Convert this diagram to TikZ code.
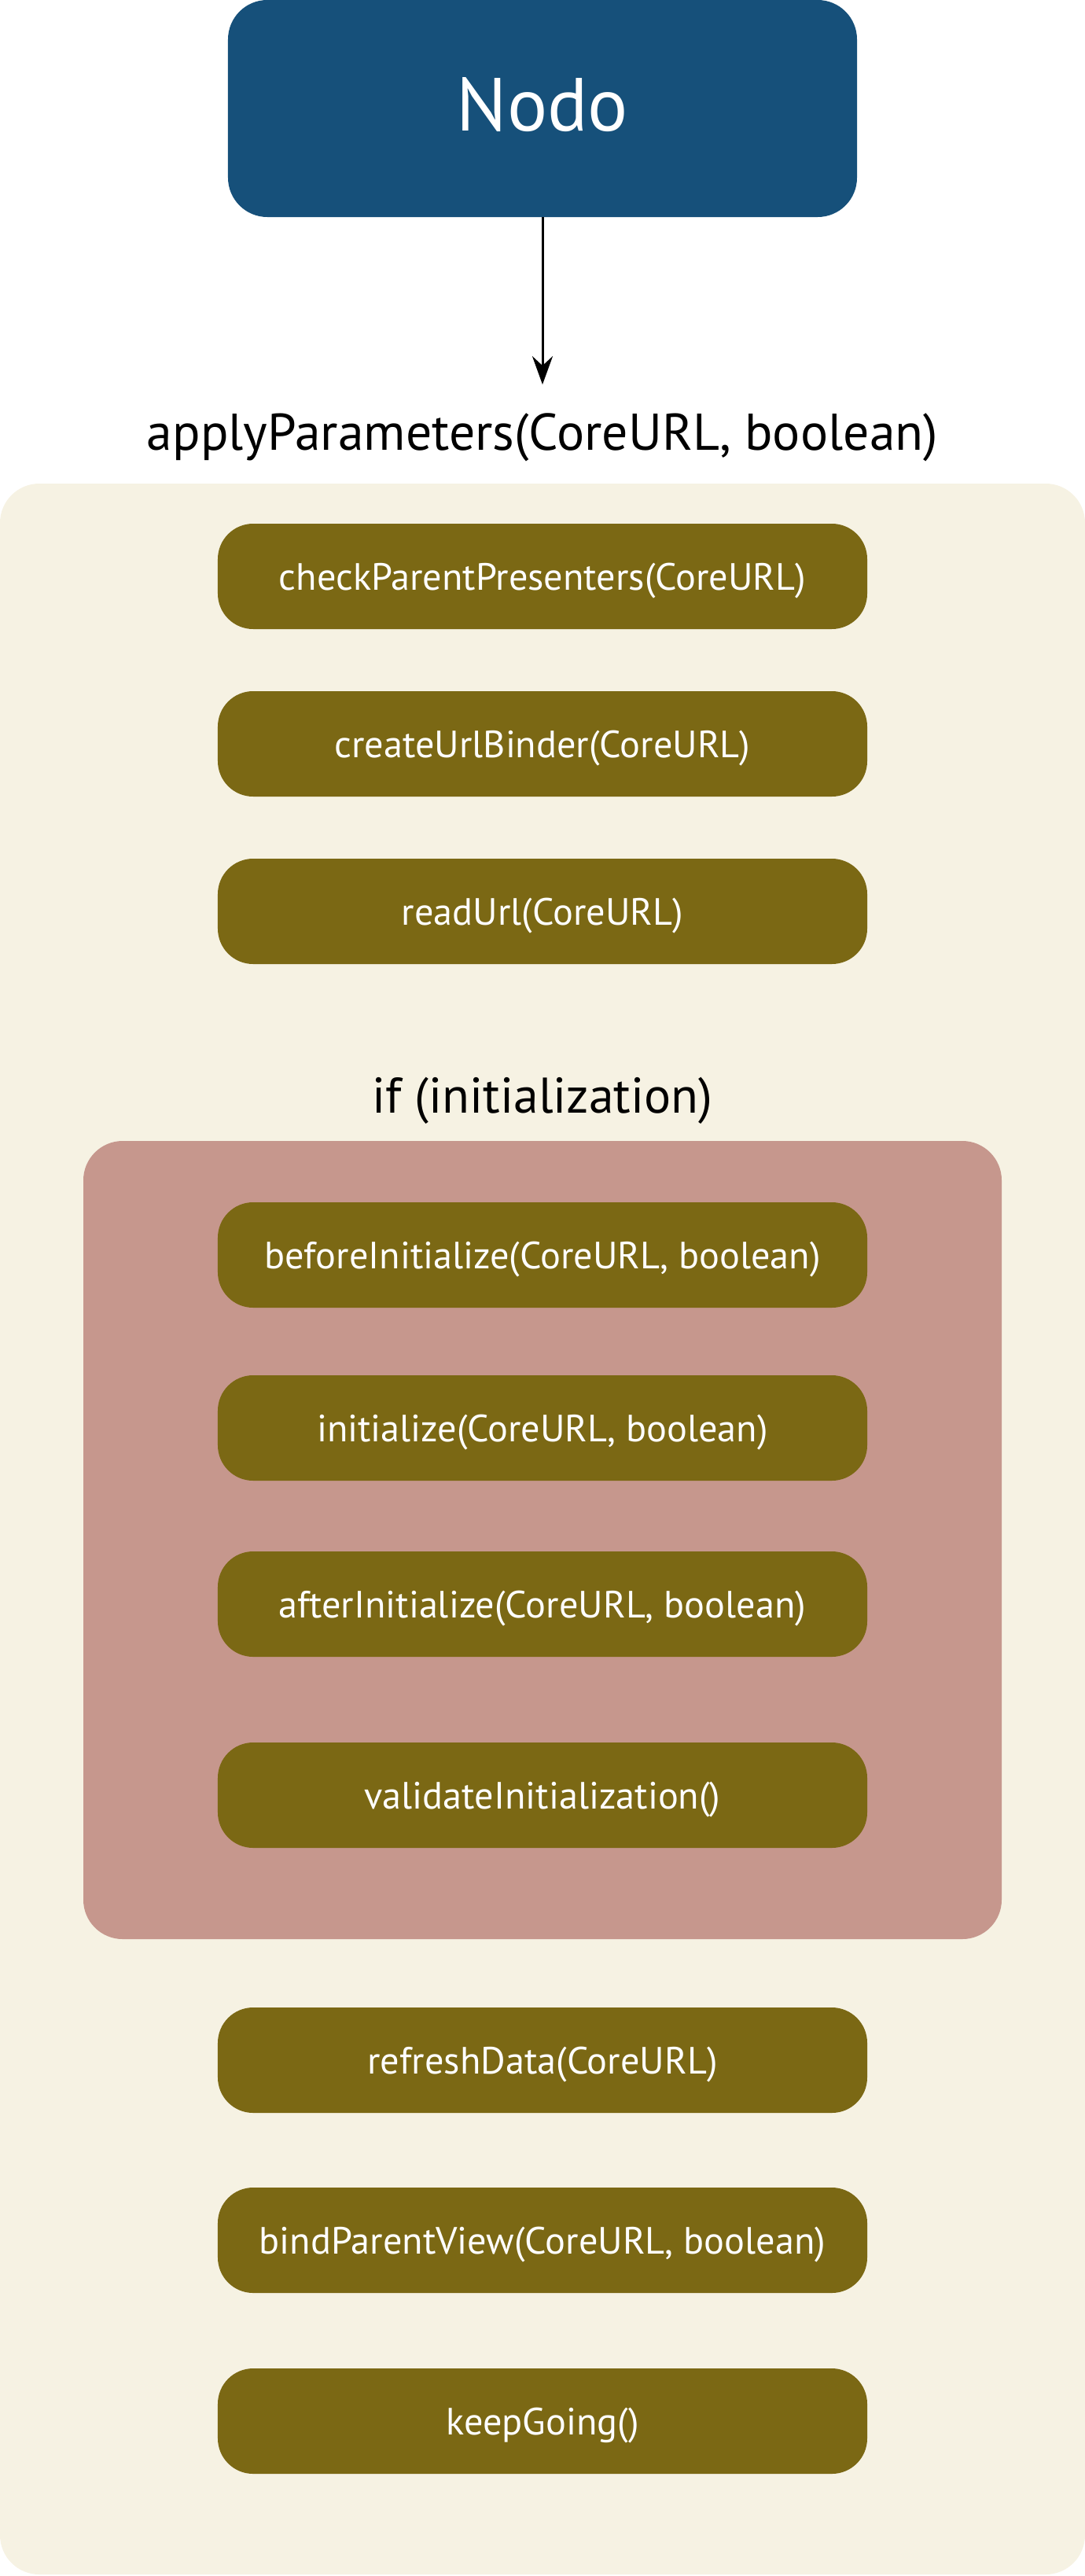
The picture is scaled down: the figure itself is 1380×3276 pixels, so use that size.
\documentclass[tikz,border=0pt]{standalone}
\usepackage{fontspec}
\setmainfont{PT Sans}
\usetikzlibrary{arrows.meta}
\definecolor{navy}{RGB}{22,80,122}
\definecolor{beige}{RGB}{246,242,227}
\definecolor{olive}{RGB}{123,104,20}
\definecolor{rose}{RGB}{198,151,141}
\tikzset{
  stepbox/.style={fill=olive, text=white, rounded corners=45bp, minimum width=826bp, minimum height=134bp,
    inner sep=0pt, text height=34bp, text depth=0bp, font=\fontsize{48.5}{58}\selectfont},
  heading/.style={anchor=base, inner sep=0pt, font=\fontsize{66}{80}\selectfont},
  conn/.style={line width=3bp, -{Stealth[length=36bp, width=26bp, inset=12bp]}}
}
\begin{document}
\begin{tikzpicture}[x=1bp,y=-1bp]
\useasboundingbox (0,0) rectangle (1380,3276);
% containers
\fill[beige, rounded corners=50bp] (0,615) rectangle (1380,3274);
\fill[rose, rounded corners=50bp] (106,1451) rectangle (1274,2466);
% top node
\node[fill=navy, text=white, rounded corners=50bp, minimum width=800bp, minimum height=276bp,
  inner sep=0pt, text height=56bp, text depth=0bp, font=\fontsize{96}{112}\selectfont] (nodo) at (690,138) {Nodo};
\coordinate (tip) at (690,489);
\draw[conn] (nodo.south) -- (tip);
\node[heading] (apply) at (690,572) {applyParameters(CoreURL, boolean)};
% steps
\node[stepbox] (s1) at (690,733) {checkParentPresenters(CoreURL)};
\node[stepbox] (s2) at (690,946) {createUrlBinder(CoreURL)};
\node[stepbox] (s3) at (690,1159) {readUrl(CoreURL)};
\node[heading, font=\fontsize{64}{78}\selectfont] (cond) at (690,1415) {if (initialization)};
\node[stepbox] (s4) at (690,1596) {beforeInitialize(CoreURL, boolean)};
\node[stepbox] (s5) at (690,1816) {initialize(CoreURL, boolean)};
\node[stepbox] (s6) at (690,2040) {afterInitialize(CoreURL, boolean)};
\node[stepbox] (s7) at (690,2283) {validateInitialization()};
\node[stepbox] (s8) at (690,2620) {refreshData(CoreURL)};
\node[stepbox] (s9) at (690,2849) {bindParentView(CoreURL, boolean)};
\node[stepbox] (s10) at (690,3079) {keepGoing()};
\end{tikzpicture}
\end{document}
